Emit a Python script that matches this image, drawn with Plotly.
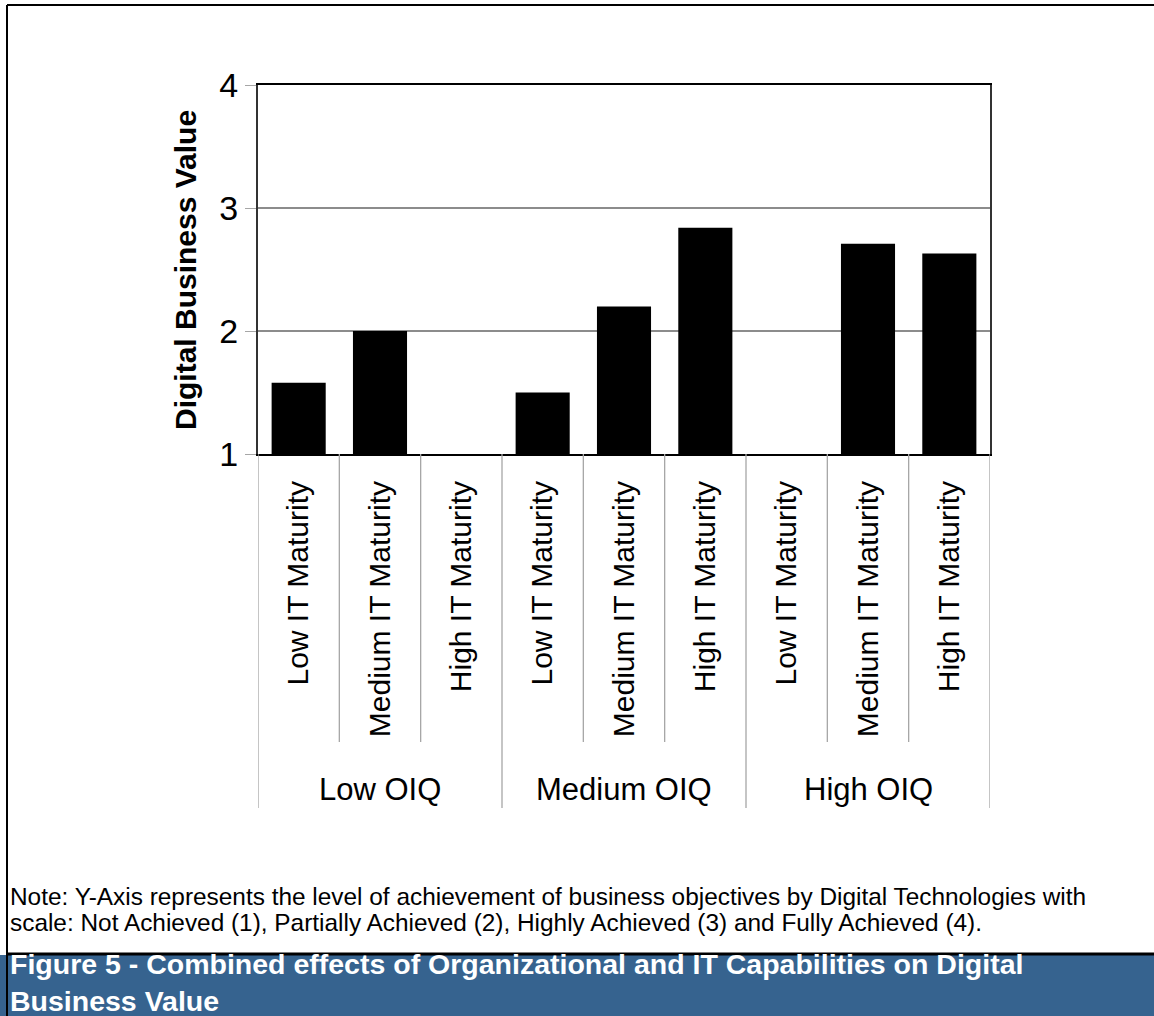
import plotly.graph_objects as go

# ---- data ----
groups = ["Low OIQ", "Medium OIQ", "High OIQ"]
it_levels = ["Low IT Maturity", "Medium IT Maturity", "High IT Maturity"]
low_oiq_values = [1.58, 2.00, None]
medium_oiq_values = [1.50, 2.20, 2.84]
high_oiq_values = [None, 2.71, 2.63]
y_ticks = [1, 2, 3, 4]

values = low_oiq_values + medium_oiq_values + high_oiq_values
x_idx = list(range(len(values)))
tick_text = it_levels * len(groups)

W, H = 1154, 1016
L, R, T, B = 258, 990, 85, 454  # plot area in pixels


def px(xp):
    return (xp - L) / (R - L)


def py(yp):
    return (B - yp) / (B - T)


FONT = "Arial, Liberation Sans, sans-serif"

fig = go.Figure()
fig.add_trace(go.Bar(
    x=x_idx, y=values, marker=dict(color="black", line=dict(width=0)),
    width=0.665, showlegend=False,
))

shapes = []
# category separators below the axis
n = len(values)
for i in range(n + 1):
    is_group = (i % 3 == 0)
    shapes.append(dict(
        type="line", xref="x", yref="paper",
        x0=i - 0.5, x1=i - 0.5, y0=0, y1=py(808 if is_group else 742),
        line=dict(color="#a6a6a6", width=1.3),
    ))
# page frame
shapes += [
    dict(type="rect", xref="paper", yref="paper", x0=px(0), x1=px(1154), y0=py(955), y1=py(1016),
         fillcolor="#36638f", line=dict(width=0), layer="below"),
    dict(type="line", xref="paper", yref="paper", x0=px(7), x1=px(1154), y0=py(5), y1=py(5),
         line=dict(color="black", width=2)),
    dict(type="line", xref="paper", yref="paper", x0=px(7), x1=px(7), y0=py(5), y1=py(1016),
         line=dict(color="black", width=2)),
    dict(type="line", xref="paper", yref="paper", x0=px(7), x1=px(1154), y0=py(954), y1=py(954),
         line=dict(color="black", width=3)),
]

annotations = []
for g, name in enumerate(groups):
    annotations.append(dict(
        x=g * 3 + 1, y=py(789), xref="x", yref="paper", text=name, showarrow=False,
        font=dict(family=FONT, size=31, color="black"),
        xanchor="center", yanchor="middle",
    ))
annotations += [
    dict(x=px(185), y=py(270), xref="paper", yref="paper", showarrow=False, textangle=-90,
         xanchor="center", yanchor="middle", text="<b>Digital Business Value</b>",
         font=dict(family=FONT, size=30, color="black")),
    dict(x=px(8), y=py(896), xref="paper", yref="paper", showarrow=False, xanchor="left", yanchor="middle",
         text="Note: Y-Axis represents the level of achievement of business objectives by Digital Technologies with",
         font=dict(family=FONT, size=24.4, color="black")),
    dict(x=px(8), y=py(922), xref="paper", yref="paper", showarrow=False, xanchor="left", yanchor="middle",
         text="scale: Not Achieved (1), Partially Achieved (2), Highly Achieved (3) and Fully Achieved (4).",
         font=dict(family=FONT, size=24.4, color="black")),
    dict(x=px(8), y=py(983), xref="paper", yref="paper", showarrow=False, xanchor="left", yanchor="middle",
         align="left",
         text="<b>Figure 5 - Combined effects of Organizational and IT Capabilities on Digital</b>"
              "<br><b>Business Value</b>",
         font=dict(family=FONT, size=28.5, color="white")),
]

fig.update_layout(
    width=W, height=H,
    margin=dict(l=L, r=W - R, t=T, b=H - B, pad=0),
    paper_bgcolor="white", plot_bgcolor="white",
    font=dict(family=FONT, color="black"),
    shapes=shapes, annotations=annotations,
    xaxis=dict(
        range=[-0.5, n - 0.5], tickmode="array", tickvals=x_idx, ticktext=tick_text,
        tickangle=-90, tickfont=dict(family=FONT, size=30, color="black"),
        showgrid=False, showline=True, linecolor="black", linewidth=2, mirror=True,
        ticks="outside", ticklen=13, tickcolor="rgba(0,0,0,0)", zeroline=False, fixedrange=True,
    ),
    yaxis=dict(
        range=[1, 4], tickmode="array", tickvals=y_ticks,
        tickfont=dict(family=FONT, size=34, color="black"),
        showgrid=True, gridcolor="#8c8c8c", gridwidth=1.5,
        showline=True, linecolor="#333333", linewidth=2, mirror=True,
        ticks="outside", ticklen=11, tickcolor="#a6a6a6", tickwidth=1.3,
        zeroline=False,
    ),
)

fig.write_html(
    "out.html",
    config={"displayModeBar": False},
    post_script="document.body.style.margin='0px';document.body.style.overflow='hidden';",
)
